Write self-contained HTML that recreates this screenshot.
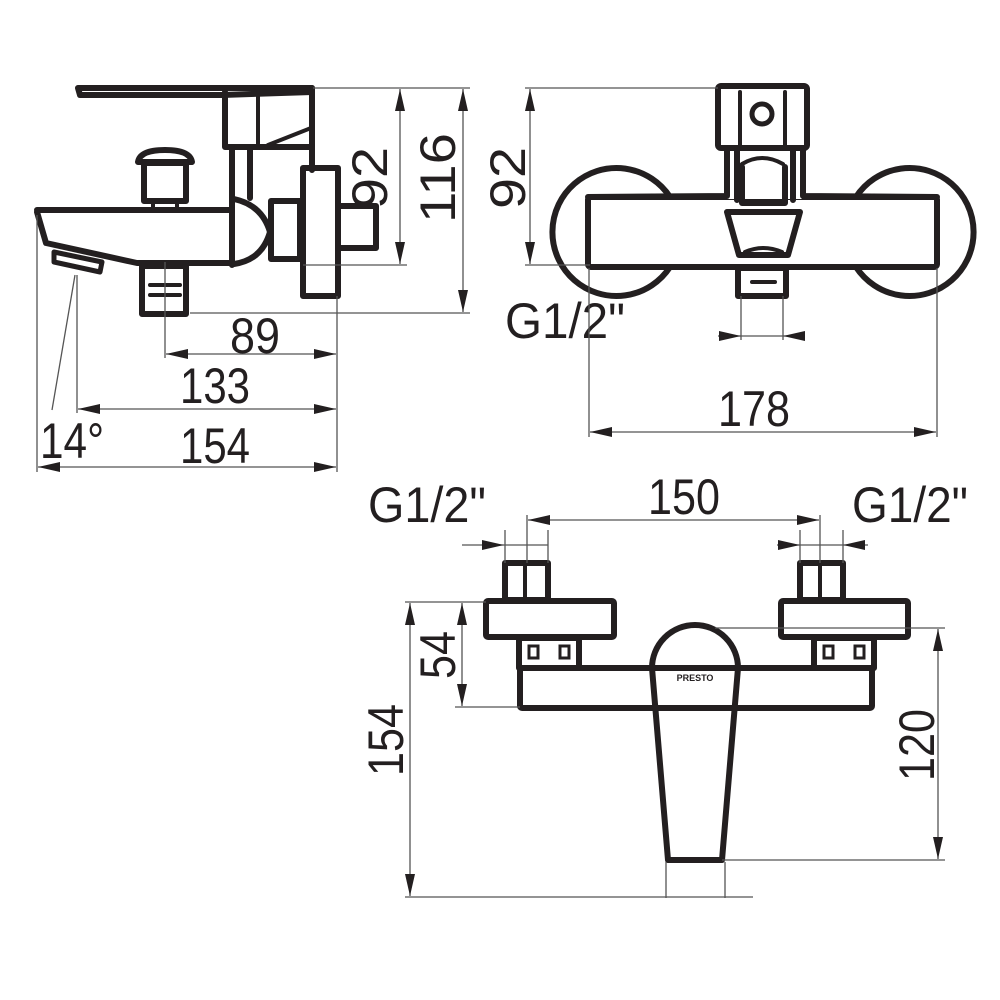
<!DOCTYPE html>
<html><head><meta charset="utf-8"><style>
html,body{margin:0;padding:0;background:#fff;}
svg{display:block;}
.o{fill:none;stroke:#231f20;stroke-width:6;stroke-linejoin:round;stroke-linecap:round;}
.d{fill:none;stroke:#555;stroke-width:1.3;}
.t{font-family:"Liberation Sans",Arial,sans-serif;font-size:50px;fill:#231f20;}
</style></head><body>
<svg width="1000" height="1000" viewBox="0 0 1000 1000" xmlns="http://www.w3.org/2000/svg">
<defs>
<marker id="a" viewBox="0 0 22 10" refX="22" refY="5" markerWidth="22" markerHeight="10" markerUnits="userSpaceOnUse" orient="auto-start-reverse">
<path d="M0,0 L22,5 L0,10 z" fill="#231f20"/></marker>
</defs>

<!-- ===== LEFT SIDE VIEW ===== -->
<path class="o" d="M78,88 L312,88 L312,92 L222,95 L80,95 Z" fill="#231f20"/>
<path class="o" d="M225,92 L225,147 L312,147 L312,88"/>
<line class="o" x1="258" y1="92" x2="258" y2="145" style="stroke-width:4"/>
<path class="o" d="M268,145 L311,128" style="stroke-width:4"/>
<path class="o" d="M232,147 L232,265 M312,147 L312,170 M250,150 L250,198" />
<path class="o" d="M37,210 L232,210 M37,212 L46,243 L137,263 L232,263"/>
<path class="o" d="M54,252 L102,262 L100,272 L54,262 Z" style="stroke-width:5"/>
<path class="o" d="M138,162 Q140,150 165,150 Q190,150 192,162 Z"/>
<rect class="o" x="144" y="163" width="42" height="38"/>
<rect class="o" x="153" y="201" width="24" height="8" style="stroke-width:4"/>
<path class="o" d="M234,199 Q262,205 270,232 Q262,260 234,264"/>
<rect class="o" x="271" y="201" width="29" height="58"/>
<rect x="279" y="212" width="13" height="7" fill="#fff"/><rect x="279" y="241" width="13" height="7" fill="#fff"/>
<rect class="o" x="303" y="168" width="35" height="128"/>
<rect class="o" x="338" y="206" width="38" height="42"/>
<rect class="o" x="142" y="266" width="44" height="48"/>
<line class="o" x1="150" y1="285" x2="180" y2="285" style="stroke-width:4"/>
<line class="o" x1="150" y1="295" x2="180" y2="295" style="stroke-width:4"/>
<line class="d" x1="165" y1="262" x2="165" y2="358"/>

<!-- left dims -->
<line class="d" x1="313" y1="88" x2="470" y2="88"/>
<line class="d" x1="303" y1="265" x2="407" y2="265"/>
<line class="d" x1="190" y1="313" x2="470" y2="313"/>
<line class="d" x1="400" y1="89" x2="400" y2="264" marker-start="url(#a)" marker-end="url(#a)"/>
<line class="d" x1="463" y1="89" x2="463" y2="312" marker-start="url(#a)" marker-end="url(#a)"/>
<text class="t" transform="translate(387,178) rotate(-90)" text-anchor="middle" textLength="62" lengthAdjust="spacingAndGlyphs">92</text>
<text class="t" transform="translate(455,178) rotate(-90)" text-anchor="middle" textLength="90" lengthAdjust="spacingAndGlyphs">116</text>
<line class="d" x1="337" y1="296" x2="337" y2="472"/>
<line class="d" x1="37" y1="215" x2="37" y2="472"/>
<line class="d" x1="77" y1="275" x2="77" y2="413"/>
<line class="d" x1="75" y1="275" x2="52" y2="410"/>
<line class="d" x1="166" y1="354" x2="336" y2="354" marker-start="url(#a)" marker-end="url(#a)"/>
<line class="d" x1="78" y1="409" x2="336" y2="409" marker-start="url(#a)" marker-end="url(#a)"/>
<line class="d" x1="38" y1="467" x2="336" y2="467" marker-start="url(#a)" marker-end="url(#a)"/>
<text class="t" x="230" y="353" textLength="50" lengthAdjust="spacingAndGlyphs">89</text>
<text class="t" x="180" y="403" textLength="70" lengthAdjust="spacingAndGlyphs">133</text>
<text class="t" x="180" y="463" textLength="70" lengthAdjust="spacingAndGlyphs">154</text>
<text class="t" x="40" y="458" textLength="64" lengthAdjust="spacingAndGlyphs">14°</text>

<!-- ===== RIGHT FRONT VIEW ===== -->
<path class="o" d="M670,197 A64,64 0 1,0 670,267" />
<path class="o" d="M856,197 A64,64 0 1,1 856,267"/>
<rect class="o" x="588" y="197" width="349" height="70" rx="3"/>
<rect x="722" y="194" width="80" height="5" fill="#fff"/>
<path class="o" d="M727,148 L727,196 L588,197 M803,148 L803,196 L937,197"/>
<path class="o" d="M737,150 L737,200 M793,150 L793,200"/>
<rect class="o" x="718" y="86" width="89" height="62" rx="3"/>
<line class="o" x1="740" y1="92" x2="740" y2="145" style="stroke-width:4"/>
<line class="o" x1="785" y1="92" x2="785" y2="145" style="stroke-width:4"/>
<circle cx="762" cy="114" r="10" fill="none" stroke="#231f20" stroke-width="5"/>
<path class="o" d="M742,164 Q762,152 783,164" style="stroke-width:4"/>
<path class="o" d="M742,167 L742,203 L785,203 L785,167"/>
<path class="o" d="M727,212 L800,212 L788,255 L739,255 Z"/>
<path class="o" d="M745,252 Q763,244 782,252" style="stroke-width:4"/>
<rect class="o" x="738" y="268" width="48" height="28"/>
<line class="o" x1="752" y1="282" x2="775" y2="282" style="stroke-width:4"/>
<!-- right dims -->
<line class="d" x1="525" y1="88" x2="718" y2="88"/>
<line class="d" x1="525" y1="265" x2="590" y2="265"/>
<line class="d" x1="530" y1="89" x2="530" y2="264" marker-start="url(#a)" marker-end="url(#a)"/>
<text class="t" transform="translate(525,178) rotate(-90)" text-anchor="middle" textLength="62" lengthAdjust="spacingAndGlyphs">92</text>
<text class="t" x="505" y="338" textLength="120" lengthAdjust="spacingAndGlyphs">G1/2"</text>
<line class="d" x1="741" y1="296" x2="741" y2="340"/>
<line class="d" x1="783" y1="296" x2="783" y2="340"/>
<line class="d" x1="718" y1="336" x2="741" y2="336" marker-end="url(#a)"/>
<line class="d" x1="805" y1="336" x2="783" y2="336" marker-end="url(#a)"/>
<line class="d" x1="741" y1="336" x2="783" y2="336"/>
<line class="d" x1="589" y1="268" x2="589" y2="437"/>
<line class="d" x1="937" y1="268" x2="937" y2="437"/>
<line class="d" x1="590" y1="432" x2="936" y2="432" marker-start="url(#a)" marker-end="url(#a)"/>
<text class="t" x="718" y="426" textLength="72" lengthAdjust="spacingAndGlyphs">178</text>

<!-- ===== BOTTOM VIEW ===== -->
<rect class="o" x="505" y="563" width="43" height="37"/>
<line class="o" x1="525" y1="566" x2="525" y2="598" style="stroke-width:4"/>
<rect class="o" x="800" y="563" width="43" height="37"/>
<line class="o" x1="820" y1="566" x2="820" y2="598" style="stroke-width:4"/>
<rect class="o" x="486" y="601" width="128" height="36" rx="2"/>
<rect class="o" x="781" y="601" width="127" height="36" rx="2"/>
<rect class="o" x="519" y="638" width="60" height="30"/>
<rect class="o" x="814" y="638" width="60" height="30"/>
<rect x="529" y="646" width="9" height="12" fill="#fff" stroke="#231f20" stroke-width="3"/>
<rect x="560" y="646" width="9" height="12" fill="#fff" stroke="#231f20" stroke-width="3"/>
<rect x="824" y="646" width="9" height="12" fill="#fff" stroke="#231f20" stroke-width="3"/>
<rect x="855" y="646" width="9" height="12" fill="#fff" stroke="#231f20" stroke-width="3"/>
<rect class="o" x="520" y="668" width="352" height="40" rx="2"/>
<path class="o" d="M668,860 L652,668 A43,43 0 0,1 738,668 L722,860 Z" fill="#fff"/>
<text x="695" y="681" text-anchor="middle" font-family="Liberation Sans, sans-serif" font-size="9" font-weight="bold" fill="#231f20">PRESTO</text>
<!-- bottom dims -->
<line class="d" x1="505" y1="530" x2="505" y2="563"/>
<line class="d" x1="548" y1="530" x2="548" y2="563"/>
<line class="d" x1="800" y1="530" x2="800" y2="563"/>
<line class="d" x1="843" y1="530" x2="843" y2="563"/>
<line class="d" x1="462" y1="545" x2="504" y2="545" marker-end="url(#a)"/>
<line class="d" x1="504" y1="545" x2="548" y2="545"/>
<line class="d" x1="868" y1="545" x2="843" y2="545" marker-end="url(#a)"/>
<line class="d" x1="800" y1="545" x2="843" y2="545"/>
<line class="d" x1="777" y1="545" x2="800" y2="545" marker-end="url(#a)"/>
<line class="d" x1="527" y1="515" x2="527" y2="563"/>
<line class="d" x1="820" y1="515" x2="820" y2="563"/>
<line class="d" x1="528" y1="520" x2="819" y2="520" marker-start="url(#a)" marker-end="url(#a)"/>
<text class="t" x="648" y="514" textLength="72" lengthAdjust="spacingAndGlyphs">150</text>
<text class="t" x="368" y="522" textLength="118" lengthAdjust="spacingAndGlyphs">G1/2"</text>
<text class="t" x="852" y="522" textLength="116" lengthAdjust="spacingAndGlyphs">G1/2"</text>
<line class="d" x1="405" y1="602" x2="486" y2="602"/>
<line class="d" x1="405" y1="897" x2="753" y2="897"/>
<line class="d" x1="410" y1="603" x2="410" y2="896" marker-start="url(#a)" marker-end="url(#a)"/>
<text class="t" transform="translate(403,740) rotate(-90)" text-anchor="middle" textLength="72" lengthAdjust="spacingAndGlyphs">154</text>
<line class="d" x1="455" y1="707" x2="520" y2="707"/>
<line class="d" x1="462" y1="603" x2="462" y2="706" marker-start="url(#a)" marker-end="url(#a)"/>
<text class="t" transform="translate(455,655) rotate(-90)" text-anchor="middle" textLength="48" lengthAdjust="spacingAndGlyphs">54</text>
<line class="d" x1="715" y1="628" x2="945" y2="628"/>
<line class="d" x1="722" y1="860" x2="945" y2="860"/>
<line class="d" x1="938" y1="629" x2="938" y2="859" marker-start="url(#a)" marker-end="url(#a)"/>
<text class="t" transform="translate(934,745) rotate(-90)" text-anchor="middle" textLength="72" lengthAdjust="spacingAndGlyphs">120</text>
<line class="d" x1="666" y1="862" x2="666" y2="898"/>
<line class="d" x1="725" y1="862" x2="725" y2="898"/>
</svg>
</body></html>
